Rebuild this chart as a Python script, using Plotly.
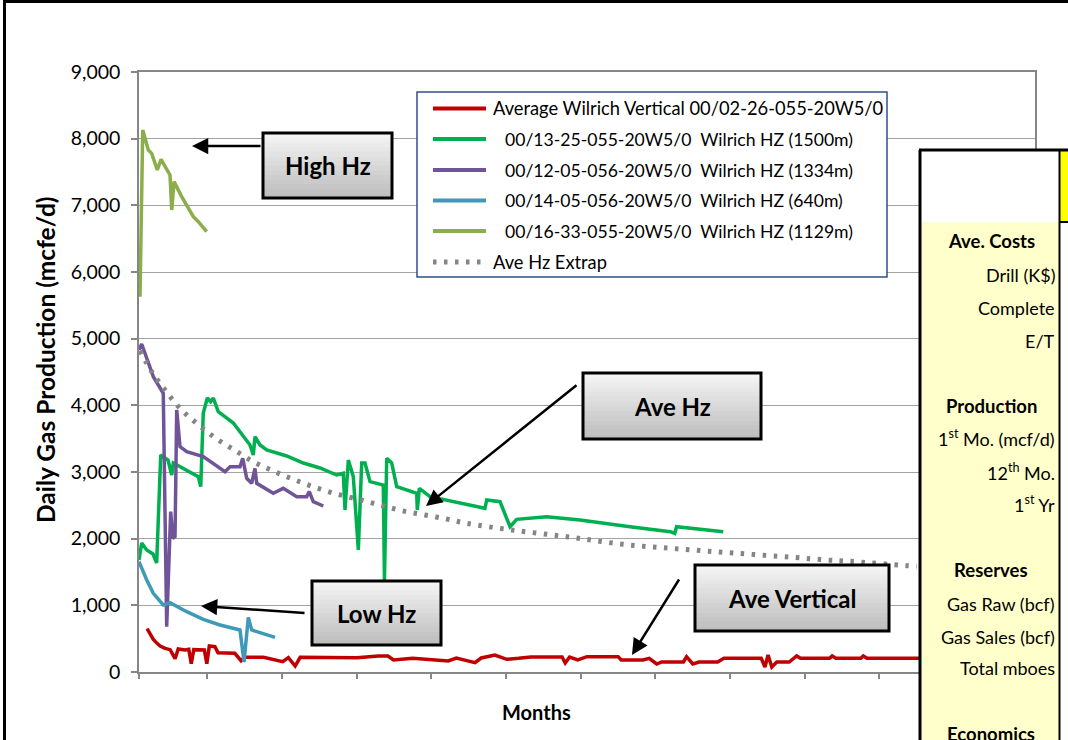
import plotly.graph_objects as go

# ---------------------------------------------------------------------------
# Data (months on production vs daily gas rate, mcfe/d)
# ---------------------------------------------------------------------------

vert_months = [1.3, 1.8, 2.3, 2.9, 3.4, 4.2, 5.0, 5.8, 6.3, 7.4, 8.0, 8.4, 8.8, 10.5,
               10.9, 11.3, 12.2, 12.7, 15.4, 16.4, 17.0, 20, 23.1, 24, 25.1, 25.9, 30,
               35, 38.5, 40, 40.9, 44, 49.7, 51, 54, 55, 57.2, 59.1, 61, 63, 68, 68.5,
               69.2, 70.5, 72, 77, 77.5, 81, 82, 83.2, 84, 87.5, 88, 89, 90, 93, 94,
               100, 100.6, 101.1, 101.7, 102.5, 104.5, 105.7, 106.3, 111, 111.4, 112,
               116, 116.4, 117, 125, 130]
vert_rate = [650, 560, 490, 430, 390, 355, 335, 200, 345, 330, 340, 125, 335, 330,
             125, 390, 380, 290, 280, 170, 220, 220, 155, 215, 90, 220, 220,
             215, 240, 240, 180, 205, 165, 210, 140, 210, 255, 190, 205, 225, 225, 135,
             225, 180, 230, 230, 180, 180, 205, 120, 150, 150, 230, 120, 150, 150, 205,
             205, 75, 255, 75, 150, 150, 240, 205, 205, 240, 205,
             205, 240, 205, 205, 205]

hz1500_months = [0, 0.43, 1.24, 2.25, 2.84, 3.49, 4.66, 5.26, 5.51, 9.53, 9.92, 10.33,
                 10.98, 11.52, 11.94, 12.74, 15.16, 17.84, 18.37, 18.64, 19.45, 20.52,
                 23.74, 26.41, 29.09, 31.77, 32.83, 33.11, 33.64, 34.44, 35.25, 35.79,
                 36.32, 37.13, 39.26, 39.45, 39.81, 40.61, 41.42, 44.63, 44.73, 45.05,
                 46.77, 53.2, 55.6, 55.88, 58.02, 59.63, 60.7, 65.52, 70.88, 78.9,
                 85.4, 86.1, 86.4, 93.9]
hz1500_rate = [1680, 1935, 1830, 1770, 1635, 3255, 3180, 2955, 3135, 2930, 2780, 3885,
               4110, 4055, 4110, 3905, 3735, 3405, 3255, 3530, 3405, 3330,
               3240, 3135, 3060, 2955, 2980, 2430, 3180, 2930, 1830, 3135,
               3135, 2855, 2805, 1380, 3205, 3135, 2780, 2680, 2430, 2755,
               2630, 2505, 2455, 2580, 2555, 2180, 2290, 2330, 2280, 2180,
               2105, 2080, 2180, 2105]

hz1334_months = [0, 0.43, 2.3, 3.9, 4.45, 5.09, 5.42, 5.79, 6.06, 6.59, 7.67, 10.33,
                 13.82, 14.63, 16.23, 16.67, 17.31, 18.11, 18.64, 18.92, 21.58, 22.66,
                 23.19, 25.35, 26.95, 27.37, 28.01, 29.62]
hz1334_rate = [4830, 4920, 4430, 4180, 680, 2405, 2005, 2030, 3930, 3380, 3305, 3230,
               3005, 3080, 3080, 3205, 2905, 2830, 3055, 2830, 2680, 2730,
               2755, 2630, 2630, 2705, 2555, 2490]

hz640_months = [0, 1.24, 2.3, 3.9, 4.98, 7.67, 10.33, 13.02, 16.23, 16.88, 17.57,
                18.11, 19.45, 21.86]
hz640_rate = [1655, 1380, 1180, 1005, 1040, 905, 790, 705, 630, 150, 820,
              630, 590, 520]

hz1129_months = [0.16, 0.6, 1.5, 2.04, 2.94, 3.54, 4.98, 5.26, 5.63, 6.86, 8.73,
                 9.53, 10.88]
hz1129_rate = [5630, 8130, 7830, 7780, 7530, 7690, 7455, 6930, 7355, 7130, 6830,
               6755, 6605]

extrap_months = [0.16, 2.04, 4.18, 6.59, 9.27, 12.21, 15.16, 18.37, 21.59, 24.8, 28.29,
                 31.77, 35.25, 38.73, 42.22, 45.97, 49.45, 52.7, 59.9, 68.7, 77.8,
                 86.9, 96.1, 105.2, 110.5, 114.3, 123.4, 125]
extrap_rate = [4820, 4505, 4230, 3955, 3730, 3515, 3340, 3155, 3015, 2890, 2770,
               2670, 2590, 2505, 2420, 2355, 2295, 2230, 2130, 2030, 1915,
               1845, 1780, 1720, 1680, 1660, 1595, 1585]

series_names = [
    "Average Wilrich Vertical 00/02-26-055-20W5/0",
    "00/13-25-055-20W5/0\u00a0\u00a0Wilrich HZ (1500m)",
    "00/12-05-056-20W5/0\u00a0\u00a0Wilrich HZ (1334m)",
    "00/14-05-056-20W5/0\u00a0\u00a0Wilrich HZ (640m)",
    "00/16-33-055-20W5/0\u00a0\u00a0Wilrich HZ (1129m)",
    "Ave Hz Extrap",
]
series_colors = ["#C00000", "#00B050", "#6F5497", "#3E9AB6", "#8BAE4A", "#858585"]

y_ticks = [0, 1000, 2000, 3000, 4000, 5000, 6000, 7000, 8000, 9000]
x_ticks = [0, 11, 23, 35, 47, 59, 71, 83, 95, 107, 119, 131, 143]

panel_rows = [
    ("<b>Ave. Costs</b>", 241), ("Drill (K$)", 275), ("Complete", 308), ("E/T", 341),
    ("<b>Production</b>", 406), ("1<sup>st</sup> Mo. (mcf/d)", 438),
    ("12<sup>th</sup> Mo.", 472), ("1<sup>st</sup> Yr", 504),
    ("<b>Reserves</b>", 570), ("Gas Raw (bcf)", 604), ("Gas Sales (bcf)", 637),
    ("Total mboes", 668), ("<b>Economics</b>", 734),
]

# ---------------------------------------------------------------------------
# Layout helpers (pixel -> paper)
# ---------------------------------------------------------------------------

W, H = 1068, 740
L, R, T, B = 139, 1035, 72, 672
FONT = "Lato, 'Open Sans', sans-serif"


def xp(px):
    return (px - L) / (R - L)


def yp(py):
    return (B - py) / (B - T)


def rect(x0, y0, x1, y1, fill=None, line_color=None, line_width=0):
    return dict(type="rect", xref="paper", yref="paper", layer="above",
                x0=xp(x0), x1=xp(x1), y0=yp(y1), y1=yp(y0),
                fillcolor=fill or "rgba(0,0,0,0)",
                line=dict(color=line_color or "rgba(0,0,0,0)", width=line_width))


def seg(x0, y0, x1, y1, color, width, dash=None):
    return dict(type="line", xref="paper", yref="paper", layer="above",
                x0=xp(x0), x1=xp(x1), y0=yp(y0), y1=yp(y1),
                line=dict(color=color, width=width, dash=dash))


def text(px, py, s, size=18.5, anchor="center", angle=0):
    return dict(xref="paper", yref="paper", x=xp(px), y=yp(py), text=s,
                showarrow=False, xanchor=anchor, yanchor="middle", textangle=angle,
                font=dict(family=FONT, size=size, color="#000000"))


def arrow(hx, hy, tx, ty):
    return dict(xref="paper", yref="paper", x=xp(hx), y=yp(hy), text="",
                showarrow=True, axref="pixel", ayref="pixel", ax=tx - hx, ay=ty - hy,
                arrowhead=2, arrowsize=1.3, arrowwidth=2.5, arrowcolor="#000000",
                standoff=0)


shapes = []
annotations = []


def callout(x0, y0, x1, y1, label):
    n = 14
    top, bot = (244, 244, 244), (190, 190, 190)
    h = (y1 - y0) / n
    for i in range(n):
        f = i / (n - 1)
        c = tuple(int(top[k] + (bot[k] - top[k]) * f) for k in range(3))
        shapes.append(rect(x0, y0 + i * h, x1, y0 + (i + 1) * h + 0.5,
                           fill="rgb(%d,%d,%d)" % c))
    shapes.append(rect(x0, y0, x1, y1, line_color="#000000", line_width=3))
    annotations.append(text((x0 + x1) / 2, (y0 + y1) / 2, "<b>%s</b>" % label, size=24))


# ---------------------------------------------------------------------------
# Figure
# ---------------------------------------------------------------------------

fig = go.Figure()
data = [
    (vert_months, vert_rate),
    (hz1500_months, hz1500_rate),
    (hz1334_months, hz1334_rate),
    (hz640_months, hz640_rate),
    (hz1129_months, hz1129_rate),
]
for (mx, my), name, col in zip(data, series_names, series_colors):
    fig.add_trace(go.Scatter(x=mx, y=my, mode="lines", name=name,
                             line=dict(color=col, width=3.5), showlegend=False))
fig.add_trace(go.Scatter(x=extrap_months, y=extrap_rate, mode="lines",
                         name=series_names[5], showlegend=False,
                         line=dict(color=series_colors[5], width=5, dash="3.5px,7.5px",
                                   shape="spline")))

# legend box drawn by hand
shapes.append(rect(417, 92, 887, 277, fill="#FFFFFF", line_color="#2F4F8F", line_width=1.5))
row_y = [108.5, 139, 170, 200.5, 231, 262]
for i, (name, col) in enumerate(zip(series_names, series_colors)):
    if i == 5:
        shapes.append(seg(433, row_y[i], 484, row_y[i], col, 5, dash="3.5px,7.5px"))
    else:
        shapes.append(seg(433, row_y[i], 486, row_y[i], col, 4))
    tx = 491 if i in (0, 5) else 503
    size = 18.3 if i in (0, 5) else 17.6
    annotations.append(text(tx, row_y[i], name, size=size, anchor="left"))

# callout boxes with arrows
callout(263, 133, 392, 198, "High Hz")
callout(583, 373, 761, 439, "Ave Hz")
callout(312, 581, 441, 645, "Low Hz")
callout(695, 565, 889, 631, "Ave Vertical")
annotations += [
    arrow(192, 146, 262, 146),
    arrow(426, 506, 578, 384),
    arrow(201, 606, 306, 613),
    arrow(632, 655, 680, 578),
]

# right-hand summary panel (partly visible)
shapes += [
    rect(920, 150, 1059, 222, fill="#FFFFFF"),
    rect(920, 222, 1059, 745, fill="#FFFFCC"),
    rect(1059, 150, 1070, 222, fill="#FFFF00"),
    rect(1059, 222, 1070, 745, fill="#FFFFFF"),
    seg(920, 150, 920, 745, "#000000", 3),
    seg(919, 150, 1070, 150, "#000000", 3),
    seg(1059.5, 150, 1059.5, 745, "#000000", 2),
    seg(1059, 222, 1070, 222, "#000000", 2),
]
for s, py in panel_rows:
    if s.startswith("<b>"):
        annotations.append(text(991, py, s))
    else:
        annotations.append(text(1057, py, s, size=18, anchor="right"))

# outer chart frame
shapes += [
    seg(3, 1.5, 1070, 1.5, "#000000", 3),
    seg(4.5, 0, 4.5, 745, "#000000", 3),
]

# axis titles
annotations.append(text(536, 712, "<b>Months</b>", size=20))
annotations.append(text(45, 360, "<b>Daily Gas Production (mcfe/d)</b>", size=24.5, angle=-90))

fig.update_layout(
    width=W, height=H, autosize=False,
    margin=dict(l=L, r=W - R, t=T, b=H - B),
    paper_bgcolor="#FFFFFF", plot_bgcolor="#FFFFFF",
    font=dict(family=FONT, size=18, color="#000000"),
    shapes=shapes, annotations=annotations, showlegend=False,
)
fig.update_xaxes(range=[0, 144], tickvals=x_ticks, showticklabels=False,
                 ticks="outside", ticklen=5, tickcolor="#868686", tickwidth=1.5,
                 showgrid=False, zeroline=False, showline=True, mirror=True,
                 linecolor="#868686", linewidth=1.5)
fig.update_yaxes(range=[0, 9000], tickvals=y_ticks, tickformat=",",
                 ticks="outside", ticklen=6, tickcolor="#868686", tickwidth=1.5,
                 ticklabelstandoff=7, tickfont=dict(family=FONT, size=19.5),
                 showgrid=True, gridcolor="#A3A3A3", gridwidth=1.2, zeroline=False,
                 showline=True, mirror=True, linecolor="#868686", linewidth=1.5)

# page body has a default 8px margin; drop it so the chart sits at the window origin
fig.write_html("out.html", config={"displayModeBar": False},
               post_script="document.body.style.margin='0';"
                           "document.body.style.overflow='hidden';")
